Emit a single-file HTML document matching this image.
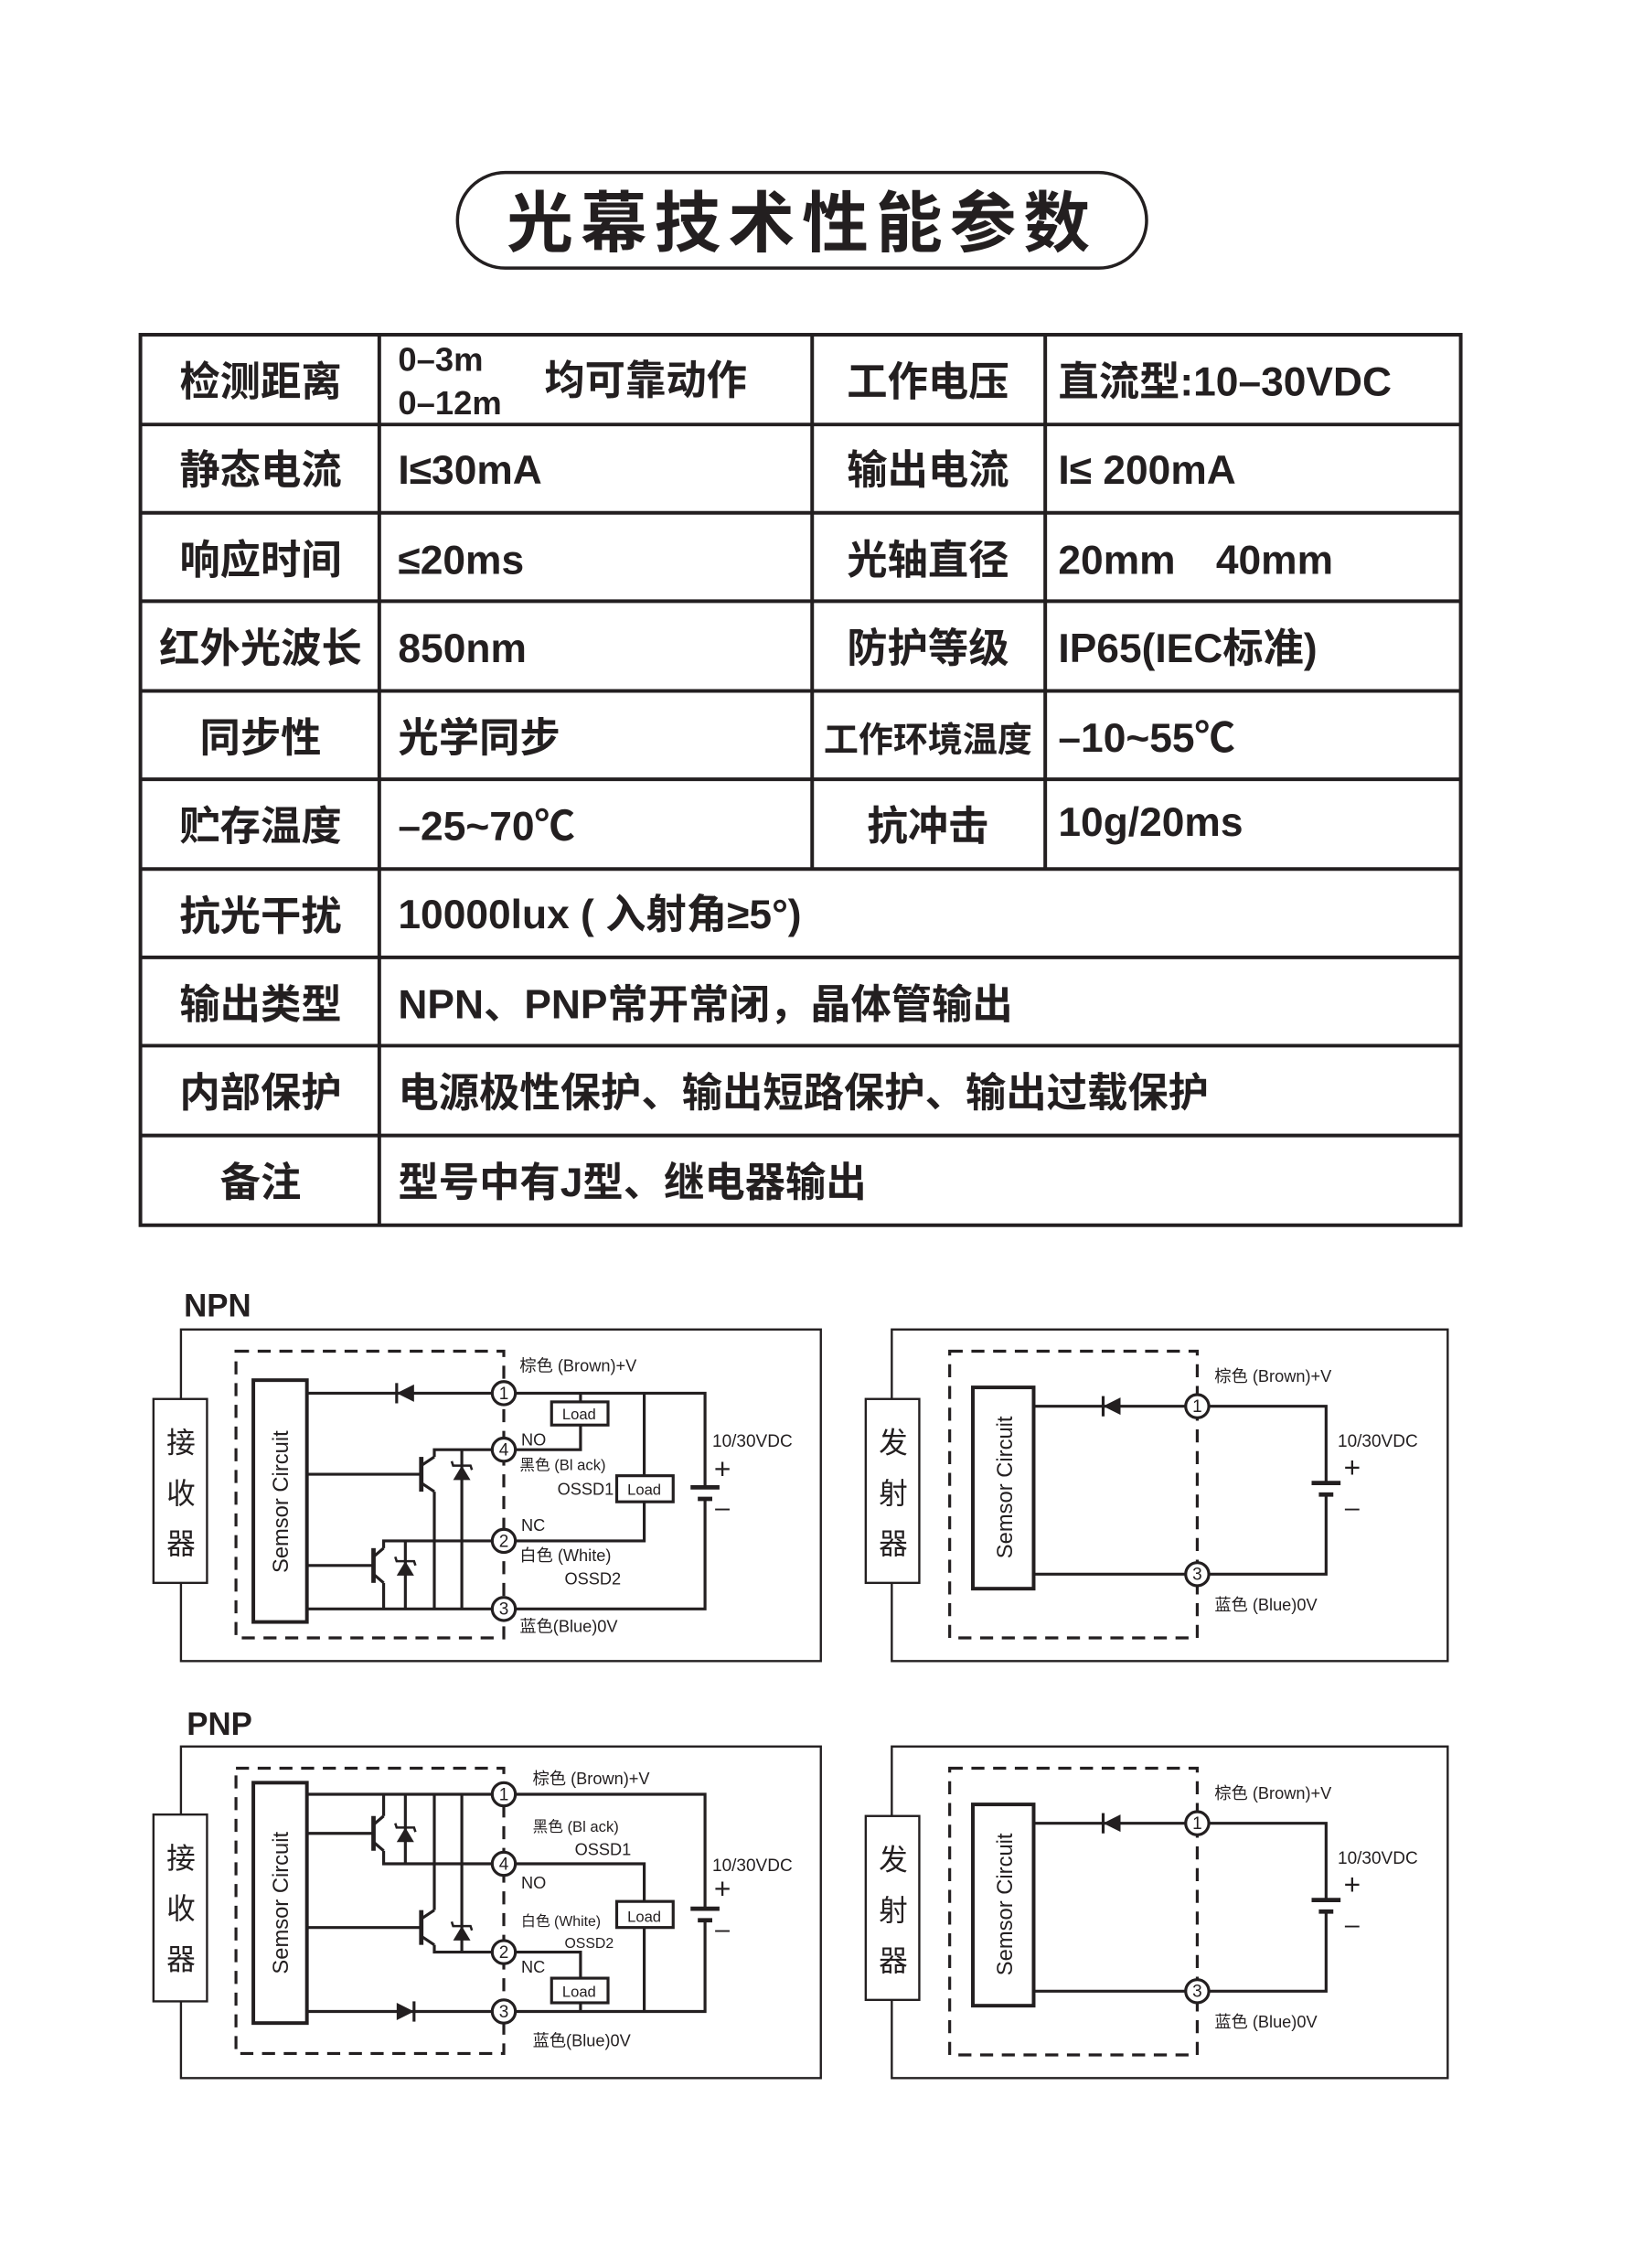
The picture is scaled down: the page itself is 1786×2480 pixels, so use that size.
<!DOCTYPE html>
<html><head><meta charset="utf-8"><style>
html,body{margin:0;padding:0;background:#fff}
svg{display:block}
text{font-family:"Liberation Sans","Noto Sans CJK SC",sans-serif;fill:#231f20}
.t{font-size:28px;font-weight:bold}
.s{font-size:11.5px}
</style></head><body>
<svg width="1786" height="2480" viewBox="0 0 1128 1566" xmlns="http://www.w3.org/2000/svg">
<defs>
<g id="zen"><polygon points="-6,5 6,5 0,-5" fill="#231f20"/><path d="M-7,-8 L-6,-5 L6,-5 L7,-2" stroke="#231f20" stroke-width="1.6" fill="none"/></g>
<g id="dl"><polygon points="6,-6 6,6 -6,0" fill="#231f20"/><line x1="-6" y1="-7" x2="-6" y2="7" stroke="#231f20" stroke-width="2"/></g>
<g id="dr"><polygon points="-6,-6 -6,6 6,0" fill="#231f20"/><line x1="6" y1="-7" x2="6" y2="7" stroke="#231f20" stroke-width="2"/></g>
</defs>
<rect width="1128" height="1566" fill="#fff"/>
<!-- title -->
<rect x="316" y="119" width="476" height="66" rx="33" fill="none" stroke="#231f20" stroke-width="2.2"/>
<text x="554" y="170" text-anchor="middle" style="font-size:46px;font-weight:bold;letter-spacing:5px">光幕技术性能参数</text>
<!-- table -->
<g stroke="#231f20" stroke-width="2.5" fill="none">
<rect x="97" y="231" width="912" height="615"/>
<line x1="97" y1="293" x2="1009" y2="293"/><line x1="97" y1="354" x2="1009" y2="354"/>
<line x1="97" y1="415" x2="1009" y2="415"/><line x1="97" y1="477" x2="1009" y2="477"/>
<line x1="97" y1="538" x2="1009" y2="538"/><line x1="97" y1="600" x2="1009" y2="600"/>
<line x1="97" y1="661" x2="1009" y2="661"/><line x1="97" y1="722" x2="1009" y2="722"/>
<line x1="97" y1="784" x2="1009" y2="784"/>
<line x1="262" y1="231" x2="262" y2="846"/>
<line x1="561" y1="231" x2="561" y2="600"/>
<line x1="722" y1="231" x2="722" y2="600"/>
</g>
<g class="t">
<text x="180" y="273" text-anchor="middle">检测距离</text>
<text x="180" y="334" text-anchor="middle">静态电流</text>
<text x="180" y="396" text-anchor="middle">响应时间</text>
<text x="180" y="457" text-anchor="middle">红外光波长</text>
<text x="180" y="519" text-anchor="middle">同步性</text>
<text x="180" y="580" text-anchor="middle">贮存温度</text>
<text x="180" y="642" text-anchor="middle">抗光干扰</text>
<text x="180" y="703" text-anchor="middle">输出类型</text>
<text x="180" y="764" text-anchor="middle">内部保护</text>
<text x="180" y="826" text-anchor="middle">备注</text>
<text x="641" y="273" text-anchor="middle">工作电压</text>
<text x="641" y="334" text-anchor="middle">输出电流</text>
<text x="641" y="396" text-anchor="middle">光轴直径</text>
<text x="641" y="457" text-anchor="middle">防护等级</text>
<text x="641" y="519" text-anchor="middle" style="font-size:24px">工作环境温度</text>
<text x="641" y="580" text-anchor="middle">抗冲击</text>
<text x="275" y="256" style="font-size:23px">0–3m</text>
<text x="275" y="286" style="font-size:23px">0–12m</text>
<text x="376" y="272">均可靠动作</text>
<text x="275" y="334">I≤30mA</text>
<text x="275" y="396">≤20ms</text>
<text x="275" y="457">850nm</text>
<text x="275" y="519">光学同步</text>
<text x="275" y="580">–25~70℃</text>
<text x="275" y="641">10000lux ( 入射角≥5°)</text>
<text x="275" y="703">NPN、PNP常开常闭，晶体管输出</text>
<text x="275" y="764">电源极性保护、输出短路保护、输出过载保护</text>
<text x="275" y="826">型号中有J型、继电器输出</text>
<text x="731" y="273">直流型:10–30VDC</text>
<text x="731" y="334">I≤ 200mA</text>
<text x="731" y="396">20mm　40mm</text>
<text x="731" y="457">IP65(IEC标准)</text>
<text x="731" y="519">–10~55℃</text>
<text x="731" y="577">10g/20ms</text>
</g>

<!-- NPN receiver -->
<text x="127" y="909" style="font-size:22px;font-weight:bold">NPN</text>
<g stroke="#231f20" fill="none">
<rect x="125" y="918" width="442" height="229" stroke-width="1.5"/>
<rect x="106" y="966" width="37" height="127" fill="#fff" stroke-width="1.5"/>
<rect x="163" y="933" width="185" height="198" stroke-width="2" stroke-dasharray="9,6"/>
<rect x="175" y="953" width="37" height="167" stroke-width="2.5" fill="#fff"/>
<g stroke-width="2">
<polyline points="212,962 340,962"/>
<polyline points="356,962 487,962 487,1027"/>
<polyline points="487,1035 487,1111 356,1111"/>
<line x1="212" y1="1111" x2="340" y2="1111"/>
<line x1="401" y1="962" x2="401" y2="968"/>
<polyline points="401,984 401,1001 356,1001"/>
<line x1="445" y1="962" x2="445" y2="1019"/>
<polyline points="445,1037 445,1064 356,1064"/>
<polyline points="340,1001 300,1001 300,1006"/>
<line x1="300" y1="1030" x2="300" y2="1111"/>
<line x1="319" y1="1001" x2="319" y2="1111"/>
<line x1="212" y1="1018" x2="291" y2="1018"/>
<line x1="291" y1="1006" x2="291" y2="1030" stroke-width="3"/>
<line x1="291" y1="1012" x2="300" y2="1006"/><line x1="291" y1="1024" x2="300" y2="1030"/>
<polyline points="340,1064 265,1064 265,1069"/>
<line x1="265" y1="1093" x2="265" y2="1111"/>
<line x1="280" y1="1064" x2="280" y2="1111"/>
<line x1="212" y1="1081" x2="258" y2="1081"/>
<line x1="258" y1="1069" x2="258" y2="1093" stroke-width="3"/>
<line x1="258" y1="1075" x2="265" y2="1069"/><line x1="258" y1="1087" x2="265" y2="1093"/>
</g>
<rect x="381" y="968" width="39" height="16" stroke-width="2" fill="#fff"/>
<rect x="426" y="1019" width="39" height="18" stroke-width="2" fill="#fff"/>
<line x1="477" y1="1027" x2="497" y2="1027" stroke-width="3"/>
<line x1="482" y1="1035" x2="492" y2="1035" stroke-width="3"/>
<g stroke-width="2" fill="#fff"><circle cx="348" cy="962" r="8"/><circle cx="348" cy="1001" r="8"/><circle cx="348" cy="1064" r="8"/><circle cx="348" cy="1111" r="8"/></g>
</g>
<use href="#dl" x="280" y="962"/><use href="#zen" x="319" y="1017"/><use href="#zen" x="280" y="1083"/>
<g class="s">
<text x="348" y="966" text-anchor="middle" font-size="12">1</text><text x="348" y="1005" text-anchor="middle" font-size="12">4</text>
<text x="348" y="1068" text-anchor="middle" font-size="12">2</text><text x="348" y="1115" text-anchor="middle" font-size="12">3</text>
<text x="359" y="947">棕色 (Brown)+V</text><text x="360" y="998">NO</text>
<text x="359" y="1015" font-size="10.5">黑色 (Bl ack)</text><text x="385" y="1032">OSSD1</text>
<text x="360" y="1057">NC</text><text x="359" y="1078">白色 (White)</text><text x="390" y="1094">OSSD2</text>
<text x="359" y="1127">蓝色(Blue)0V</text>
<text x="400" y="980" font-size="10.5" text-anchor="middle">Load</text><text x="445" y="1032" font-size="10.5" text-anchor="middle">Load</text>
<text x="492" y="999" font-size="12">10/30VDC</text>
</g>
<text x="499" y="1021" style="font-size:20px" text-anchor="middle">+</text><text x="499" y="1047" style="font-size:18px" text-anchor="middle">–</text>
<g style="font-size:20px"><text x="125" y="1003" text-anchor="middle">接</text><text x="125" y="1038" text-anchor="middle">收</text><text x="125" y="1073" text-anchor="middle">器</text></g>
<text transform="translate(199,1037) rotate(-90)" text-anchor="middle" style="font-size:15px">Semsor Circuit</text>

<!-- NPN emitter and PNP emitter -->
<g id="em">
<g stroke="#231f20" fill="none">
<rect x="616" y="918" width="384" height="229" stroke-width="1.5"/>
<rect x="598" y="966" width="37" height="127" fill="#fff" stroke-width="1.5"/>
<rect x="656" y="933" width="171" height="198" stroke-width="2" stroke-dasharray="9,6"/>
<rect x="672" y="958" width="42" height="139" stroke-width="2.5" fill="#fff"/>
<g stroke-width="2">
<line x1="714" y1="971" x2="819" y2="971"/><polyline points="835,971 916,971 916,1024"/>
<polyline points="916,1032 916,1087 835,1087"/><line x1="714" y1="1087" x2="819" y2="1087"/>
</g>
<line x1="906" y1="1024" x2="926" y2="1024" stroke-width="3"/><line x1="911" y1="1032" x2="921" y2="1032" stroke-width="3"/>
<g stroke-width="2" fill="#fff"><circle cx="827" cy="971" r="8"/><circle cx="827" cy="1087" r="8"/></g>
</g>
<use href="#dl" x="768" y="971"/>
<g class="s">
<text x="827" y="975" text-anchor="middle" font-size="12">1</text><text x="827" y="1091" text-anchor="middle" font-size="12">3</text>
<text x="839" y="954">棕色 (Brown)+V</text><text x="839" y="1112">蓝色 (Blue)0V</text>
<text x="924" y="999" font-size="12">10/30VDC</text>
</g>
<text x="934" y="1020" style="font-size:20px" text-anchor="middle">+</text><text x="934" y="1047" style="font-size:18px" text-anchor="middle">–</text>
<g style="font-size:20px"><text x="617" y="1003" text-anchor="middle">发</text><text x="617" y="1038" text-anchor="middle">射</text><text x="617" y="1073" text-anchor="middle">器</text></g>
<text transform="translate(699,1027) rotate(-90)" text-anchor="middle" style="font-size:15px">Semsor Circuit</text>
</g>
<use href="#em" y="288"/>

<!-- PNP receiver -->
<text x="129" y="1198" style="font-size:22px;font-weight:bold">PNP</text>
<g stroke="#231f20" fill="none">
<rect x="125" y="1206" width="442" height="229" stroke-width="1.5"/>
<rect x="106" y="1253" width="37" height="129" fill="#fff" stroke-width="1.5"/>
<rect x="163" y="1221" width="185" height="197" stroke-width="2" stroke-dasharray="9,6"/>
<rect x="175" y="1231" width="37" height="166" stroke-width="2.5" fill="#fff"/>
<g stroke-width="2">
<line x1="212" y1="1239" x2="340" y2="1239"/>
<polyline points="356,1239 487,1239 487,1318"/>
<polyline points="487,1326 487,1389 356,1389"/>
<line x1="212" y1="1389" x2="340" y2="1389"/>
<line x1="265" y1="1239" x2="265" y2="1254"/>
<polyline points="265,1278 265,1287 340,1287"/>
<line x1="280" y1="1239" x2="280" y2="1287"/>
<line x1="300" y1="1239" x2="300" y2="1319"/>
<polyline points="300,1343 300,1348 340,1348"/>
<line x1="319" y1="1239" x2="319" y2="1348"/>
<polyline points="356,1287 445,1287 445,1313"/>
<line x1="445" y1="1331" x2="445" y2="1389"/>
<polyline points="356,1348 401,1348 401,1366"/>
<line x1="401" y1="1383" x2="401" y2="1389"/>
<line x1="212" y1="1266" x2="258" y2="1266"/>
<line x1="258" y1="1254" x2="258" y2="1278" stroke-width="3"/>
<line x1="258" y1="1260" x2="265" y2="1254"/><line x1="258" y1="1272" x2="265" y2="1278"/>
<line x1="212" y1="1331" x2="291" y2="1331"/>
<line x1="291" y1="1319" x2="291" y2="1343" stroke-width="3"/>
<line x1="291" y1="1325" x2="300" y2="1319"/><line x1="291" y1="1337" x2="300" y2="1343"/>
</g>
<rect x="426" y="1313" width="39" height="18" stroke-width="2" fill="#fff"/>
<rect x="381" y="1366" width="39" height="17" stroke-width="2" fill="#fff"/>
<line x1="477" y1="1318" x2="497" y2="1318" stroke-width="3"/>
<line x1="482" y1="1326" x2="492" y2="1326" stroke-width="3"/>
<g stroke-width="2" fill="#fff"><circle cx="348" cy="1239" r="8"/><circle cx="348" cy="1287" r="8"/><circle cx="348" cy="1348" r="8"/><circle cx="348" cy="1389" r="8"/></g>
</g>
<use href="#dr" x="280" y="1389"/><use href="#zen" x="280" y="1267"/><use href="#zen" x="319" y="1335"/>
<g class="s">
<text x="348" y="1243" text-anchor="middle" font-size="12">1</text><text x="348" y="1291" text-anchor="middle" font-size="12">4</text>
<text x="348" y="1352" text-anchor="middle" font-size="12">2</text><text x="348" y="1393" text-anchor="middle" font-size="12">3</text>
<text x="368" y="1232">棕色 (Brown)+V</text>
<text x="368" y="1265" font-size="10.5">黑色 (Bl ack)</text><text x="397" y="1281">OSSD1</text>
<text x="360" y="1304">NO</text>
<text x="360" y="1330" font-size="10">白色 (White)</text><text x="390" y="1345" font-size="10">OSSD2</text>
<text x="360" y="1362">NC</text>
<text x="368" y="1413">蓝色(Blue)0V</text>
<text x="445" y="1327" font-size="10.5" text-anchor="middle">Load</text><text x="400" y="1379" font-size="10.5" text-anchor="middle">Load</text>
<text x="492" y="1292" font-size="12">10/30VDC</text>
</g>
<text x="499" y="1311" style="font-size:20px" text-anchor="middle">+</text><text x="499" y="1338" style="font-size:18px" text-anchor="middle">–</text>
<g style="font-size:20px"><text x="125" y="1290" text-anchor="middle">接</text><text x="125" y="1325" text-anchor="middle">收</text><text x="125" y="1360" text-anchor="middle">器</text></g>
<text transform="translate(199,1314) rotate(-90)" text-anchor="middle" style="font-size:15px">Semsor Circuit</text>
</svg>
</body></html>
